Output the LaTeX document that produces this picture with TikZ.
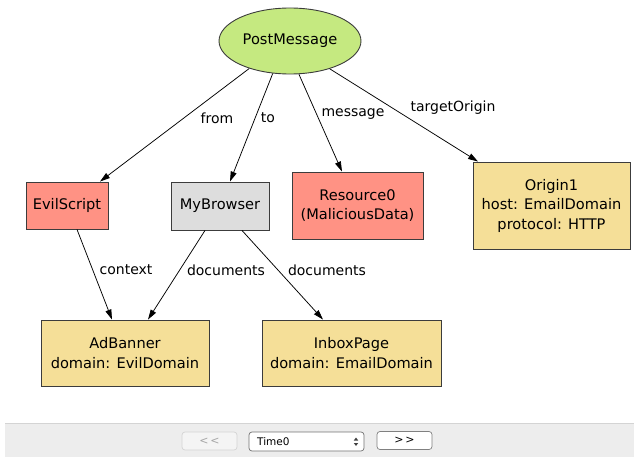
\documentclass[tikz,border=0pt]{standalone}
\usepackage{fontspec}
\setmainfont{DejaVu Sans}
\usetikzlibrary{shapes.geometric,arrows.meta,calc}
\definecolor{pmgreen}{RGB}{197,233,128}
\definecolor{salmon}{RGB}{255,146,132}
\definecolor{lgrey}{RGB}{221,221,221}
\definecolor{sand}{RGB}{245,223,152}
\definecolor{bd}{RGB}{60,60,60}
\definecolor{barbg}{RGB}{237,237,237}
\definecolor{barline}{RGB}{212,212,212}
\definecolor{btnline}{RGB}{165,165,165}
\begin{document}
\begin{tikzpicture}[x=1pt,y=-1pt,
  txt/.style={font=\fontsize{14.6}{19.5}\selectfont},
  box/.style={txt,draw=bd,line width=0.9pt,inner sep=0pt,align=center},
  ell/.style={box,ellipse},
  lbl/.style={font=\fontsize{14}{16}\selectfont,inner sep=0pt},
  conn/.style={draw=black,line width=0.75pt,-{Triangle[length=10pt,width=6pt]}},
  btn/.style={draw=btnline,line width=0.7pt,rounded corners=3pt,fill=white,minimum height=18pt,inner sep=0pt}
]
\useasboundingbox (0,0) rectangle (634,457);
% nodes
\node[ell,fill=pmgreen,minimum width=142pt,minimum height=66pt] (PM) at (290,41) {PostMessage};
\node[box,fill=salmon,minimum width=82pt,minimum height=47pt] (ES) at (67,205.5) {EvilScript};
\node[box,fill=lgrey,minimum width=98pt,minimum height=48pt] (MB) at (220,206) {MyBrowser};
\node[box,fill=salmon,minimum width=131pt,minimum height=67pt] (R0) at (357.5,205.5) {Resource0\\(MaliciousData)};
\node[box,fill=sand,minimum width=157pt,minimum height=87pt] (O1) at (551.5,205.5) {Origin1\\host: EmailDomain\\protocol: HTTP};
\node[box,fill=sand,minimum width=168pt,minimum height=66pt] (AB) at (125,353) {AdBanner\\domain: EvilDomain};
\node[box,fill=sand,minimum width=179pt,minimum height=66pt] (IP) at (351.5,353) {InboxPage\\domain: EmailDomain};
% connectors
\draw[conn] (PM.214.6) -- ([xshift=33pt]ES.north) node[lbl,at={(217,118)}] {from};
\draw[conn] (PM.242.8) -- ([xshift=10pt]MB.north) node[lbl,at={(268,118)}] {to};
\draw[conn] (PM.285.9) -- ([xshift=-15.5pt]R0.north) node[lbl,at={(353,114)}] {message};
\draw[conn] (PM.325.4) -- ([xshift=-73.5pt]O1.north) node[lbl,at={(453,108)}] {targetOrigin};
\draw[conn] ([xshift=10pt]ES.south) -- ([xshift=-13pt]AB.north) node[lbl,at={(126,270)}] {context};
\draw[conn] ([xshift=-15pt]MB.south) -- ([xshift=23pt]AB.north) node[lbl,at={(226,270)}] {documents};
\draw[conn] ([xshift=22pt]MB.south) -- ([xshift=-28.5pt]IP.north) node[lbl,at={(327,270)}] {documents};
% toolbar
\fill[barbg] (5,423) rectangle (634,457);
\draw[barline,line width=1pt] (5,423) -- (634,423);
\node[btn,minimum width=55pt,fill=barbg!60!white,draw=barline,text=black!35,font=\fontsize{11}{12}\selectfont] (prev) at (209.5,441) {<\,<};
\node[btn,minimum width=115pt,minimum height=19pt,draw=black!55] (sel) at (306.5,441.5) {};
\node[font=\fontsize{10.5}{12}\selectfont,anchor=west,inner sep=0pt] (selt) at (257,441.5) {Time0};
\fill[black!75] (356,437.5) -- (358.2,440.5) -- (353.8,440.5) -- cycle;
\fill[black!75] (356,446) -- (358.2,443) -- (353.8,443) -- cycle;
\node[btn,minimum width=55pt,draw=black!50,font=\fontsize{11}{12}\selectfont] (next) at (404.5,440.5) {>\,>};
\end{tikzpicture}
\end{document}
